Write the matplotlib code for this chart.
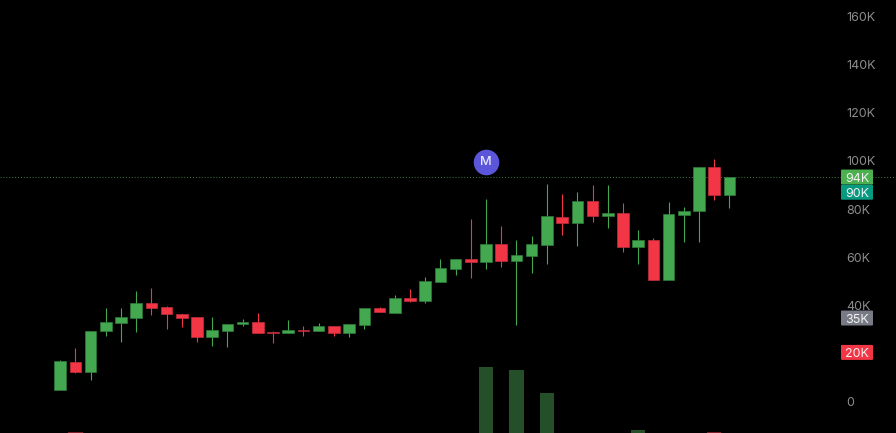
import numpy as np
import matplotlib
matplotlib.use("Agg")
import matplotlib.pyplot as plt
from matplotlib.patches import FancyBboxPatch

# price in thousands
opens = [4.7, 16.6, 12.2, 29.1, 32.8, 34.6, 41.0, 39.1, 36.4, 35.0, 26.9, 29.5, 32.1, 33.2, 28.7,
         28.3, 29.9, 29.1, 31.3, 28.3, 32.0, 38.8, 36.9, 43.2, 41.7, 49.6, 54.9, 59.4, 57.8, 65.4,
         58.2, 60.5, 65.0, 76.9, 74.4, 83.4, 77.0, 78.5, 64.3, 67.3, 50.4, 77.7, 79.0, 97.5, 85.7]
closes = [16.75, 12.2, 29.5, 33.2, 35.0, 41.0, 38.8, 36.2, 34.6, 26.9, 29.8, 32.4, 33.2, 28.3, 28.4,
          29.8, 29.1, 31.3, 28.3, 32.4, 38.8, 37.0, 43.2, 41.7, 50.0, 55.3, 59.4, 57.8, 65.4, 58.2,
          60.8, 65.4, 76.9, 74.4, 83.4, 77.0, 78.5, 64.3, 67.3, 50.4, 78.1, 79.3, 97.5, 85.7, 93.4]
highs = [17.2, 22.4, 29.5, 38.8, 38.8, 45.8, 47.0, 39.9, 36.4, 35.0, 35.3, 32.4, 34.4, 36.6, 29.5,
         33.7, 31.3, 32.7, 31.3, 32.4, 38.8, 39.4, 44.1, 46.7, 51.9, 59.4, 59.4, 75.9, 84.1, 72.9,
         67.3, 68.7, 90.6, 86.4, 87.1, 90.2, 89.8, 82.6, 71.1, 68.0, 83.0, 80.7, 97.5, 100.6, 93.4]
lows = [4.7, 11.8, 8.9, 27.4, 24.6, 28.8, 35.9, 30.3, 30.9, 24.6, 23.0, 22.7, 31.3, 28.3, 24.2,
        28.3, 27.1, 29.1, 27.4, 26.9, 30.2, 37.0, 36.9, 41.4, 41.0, 49.6, 52.7, 51.5, 54.9, 56.0,
        31.6, 53.5, 57.3, 69.4, 64.8, 74.8, 72.2, 62.0, 57.3, 50.4, 50.4, 66.5, 66.5, 83.7, 80.3]

# volume, no scale shown on the chart so these are relative
vol_index = [1, 28, 30, 32, 38, 43]
vol_values = [1, 66, 63, 40, 3, 1]
vol_up = [False, True, True, True, True, False]

tick_values = [0, 40, 60, 80, 100, 120, 140, 160]
tick_labels = ["0", "40K", "60K", "80K", "100K", "120K", "140K", "160K"]

tag_values = [93.3, 87.0, 34.7, 20.4]
tag_labels = ["94K", "90K", "35K", "20K"]
tag_colors = ["#4caf50", "#089981", "#787b86", "#f23645"]

marker_index = 28
marker_price = 99.7
last_price = 93.4

GREEN = "#43a84f"
RED = "#f23645"

plt.rcParams["font.family"] = ["Inter", "DejaVu Sans"]

opens, closes = np.array(opens), np.array(closes)
highs, lows = np.array(highs), np.array(lows)
x = np.arange(len(opens))
up = closes >= opens
colors = np.where(up, GREEN, RED)
edges = np.where(up, "#2f7a39", "#c22d3a")

fig = plt.figure(figsize=(8.96, 4.33), dpi=100, facecolor="black")
ax = fig.add_axes([0, 0, 1, 1], facecolor="black")

# volume sits behind everything on its own scale
vol_ax = ax.twinx()
vol_ax.set_ylim(0, 433)
vol_ax.axis("off")
vol_ax.set_zorder(0)
ax.set_zorder(1)
ax.patch.set_visible(False)
vol_ax.bar(vol_index, vol_values, width=0.95,
           color=["#254f28" if u else "#7d1f28" for u in vol_up])

ax.vlines(x, lows, highs, colors=colors, linewidth=0.8, zorder=2)
ax.bar(x, np.maximum(np.abs(closes - opens), 0.4), bottom=np.minimum(opens, closes), width=0.76,
       color=colors, edgecolor=edges, linewidth=0.5, zorder=3)

ax.axhline(last_price, color="#4caf50", linewidth=0.7, linestyle=(0, (1, 2)), alpha=0.75, zorder=1)

ax.scatter([marker_index], [marker_price], s=340, color="#5b55d9", zorder=5, linewidth=0)
ax.text(marker_index, marker_price, "M", color="#e8e8f8", fontsize=9.2, fontweight="medium",
        ha="center", va="center", zorder=6)

ax.set_xlim(-3.95, 54.95)
ax.set_ylim(-13.1, 166.9)
ax.set_xticks([])
ax.set_yticks(tick_values)
ax.set_yticklabels(tick_labels)
ax.yaxis.tick_right()
ax.tick_params(axis="y", length=0, pad=-36, labelsize=9, labelcolor="#8c8c8c")
for s in ax.spines.values():
    s.set_visible(False)

# price tags on the right, drawn in pixels so the corners stay tight
for val, lab, col in zip(tag_values, tag_labels, tag_colors):
    py = ax.transData.transform((0, val))[1]
    ax.add_patch(FancyBboxPatch((842, py - 6.5), 30, 13, boxstyle="round,pad=1,rounding_size=1",
                                transform=None, facecolor=col, edgecolor="none", zorder=7))
    ax.annotate(lab, xy=(857, py - 0.5), xycoords="figure pixels", color="#f2f2f2", fontsize=9,
                ha="center", va="center_baseline", zorder=8)

fig.savefig("out.png", dpi=100, facecolor="black")
